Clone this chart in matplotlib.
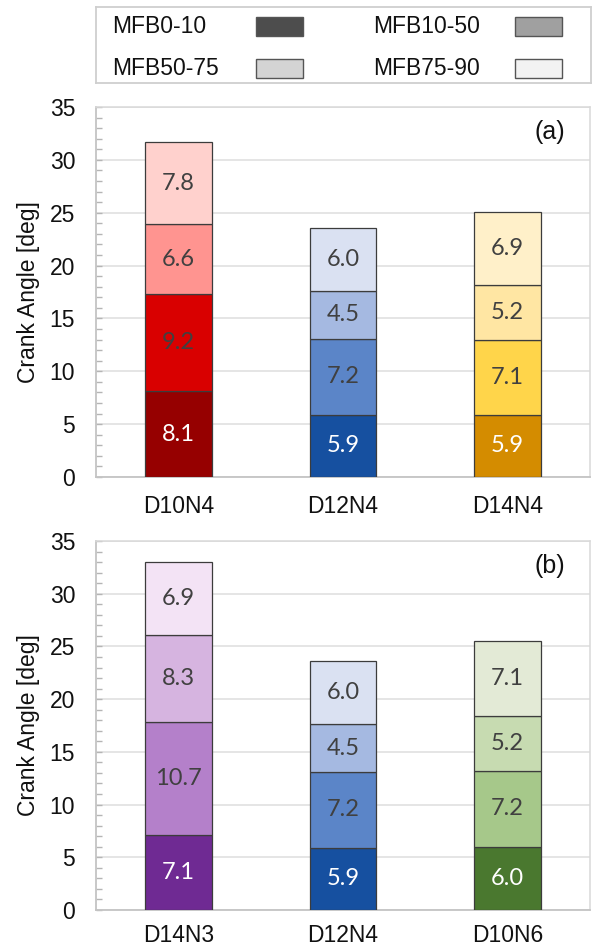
import matplotlib
matplotlib.use("Agg")
import matplotlib.pyplot as plt
from matplotlib.patches import Rectangle
import numpy as np

# Combustion phase durations (crank angle degrees) per mass-fraction-burned interval
phases = ["MFB0-10", "MFB10-50", "MFB50-75", "MFB75-90"]
legend_greys = ["#4d4d4d", "#a0a0a0", "#d4d4d4", "#f2f2f2"]

cases_a = ["D10N4", "D12N4", "D14N4"]
d10n4 = [8.1, 9.2, 6.6, 7.8]
d12n4 = [5.9, 7.2, 4.5, 6.0]
d14n4 = [5.9, 7.1, 5.2, 6.9]

cases_b = ["D14N3", "D12N4", "D10N6"]
d14n3 = [7.1, 10.7, 8.3, 6.9]
d10n6 = [6.0, 7.2, 5.2, 7.1]

red_shades = ["#960000", "#d90000", "#ff9490", "#ffd1cd"]
blue_shades = ["#1650a0", "#5b85c8", "#a5b9e1", "#dae1f2"]
gold_shades = ["#d48c00", "#ffd54a", "#ffe6a3", "#fff0c9"]
purple_shades = ["#6f2a93", "#b480ca", "#d6b4e0", "#f3e3f5"]
green_shades = ["#4a782f", "#a6c88a", "#c7dbb1", "#e3ead6"]

W, H = 592, 949
fig = plt.figure(figsize=(W / 100, H / 100), dpi=100)

TICK_FONT = "Liberation Sans"
VALUE_FONT = "Lato"


def px_axes(x0, y0, x1, y1):
    return fig.add_axes([x0 / W, 1 - y1 / H, (x1 - x0) / W, (y1 - y0) / H])


def stacked_panel(ax, cases, values, shades, tag, xpad):
    x = np.arange(len(cases))
    for i, (vals, cols) in enumerate(zip(values, shades)):
        bottom = 0.0
        for j, (v, c) in enumerate(zip(vals, cols)):
            ax.bar(x[i], v, width=0.405, bottom=bottom, color=c,
                   edgecolor="#3c3c3c", linewidth=0.9, zorder=3)
            ax.text(x[i], bottom + v / 2, f"{v:.1f}", ha="center", va="center",
                    fontsize=17, family=VALUE_FONT,
                    color="white" if j == 0 else "#404040", zorder=4)
            bottom += v
    ax.set_xlim(-0.5, len(cases) - 0.5)
    ax.set_ylim(0, 35)
    ax.set_yticks(np.arange(0, 36, 5))
    ax.set_yticks(np.arange(0, 36, 1), minor=True)
    ax.set_xticks(x)
    ax.set_xticklabels(cases, family=TICK_FONT, fontsize=16.5)
    for lbl in ax.get_yticklabels():
        lbl.set_family(TICK_FONT)
        lbl.set_fontsize(16.5)
    ax.tick_params(axis="y", which="both", direction="in", length=4,
                   width=1.0, color="#b5b5b5", pad=15, labelcolor="#111111")
    ax.tick_params(axis="x", length=0, pad=xpad, labelcolor="#111111")
    ax.grid(axis="y", which="major", color="#dedede", linewidth=1.1, zorder=0)
    for side in ["top", "right"]:
        ax.spines[side].set_color("#d9d9d9")
        ax.spines[side].set_linewidth(1.1)
    for side in ["left", "bottom"]:
        ax.spines[side].set_color("#c4c4c4")
        ax.spines[side].set_linewidth(1.3)
    ax.set_ylabel("Crank Angle [deg]", family=TICK_FONT, fontsize=16.5,
                  color="#111111")
    ax.yaxis.set_label_coords(-0.113, 0.5)
    ax.text(0.919, 32.6, tag, transform=ax.get_yaxis_transform(),
            ha="center", va="center", family=TICK_FONT, fontsize=18,
            color="#111111")


ax_a = px_axes(96, 107, 590, 477)
stacked_panel(ax_a, cases_a, [d10n4, d12n4, d14n4],
              [red_shades, blue_shades, gold_shades], "(a)", 13)

ax_b = px_axes(96, 541, 590, 910)
stacked_panel(ax_b, cases_b, [d14n3, d12n4, d10n6],
              [purple_shades, blue_shades, green_shades], "(b)", 10)

# Shared legend drawn in a framed strip above the panels
leg = px_axes(96, 7, 591, 83)
leg.set_xlim(96, 591)
leg.set_ylim(83, 7)
leg.set_xticks([])
leg.set_yticks([])
for s in leg.spines.values():
    s.set_color("#cfcfcf")
    s.set_linewidth(1.3)
text_x = [112, 373, 112, 373]
patch_x = [256, 515, 256, 515]
row_y = [26.5, 26.5, 68.5, 68.5]
for name, grey, tx, pxl, ry in zip(phases, legend_greys, text_x, patch_x, row_y):
    leg.text(tx, ry, name, ha="left", va="center", family=TICK_FONT,
             fontsize=16.5, color="#111111")
    leg.add_patch(Rectangle((pxl, ry - 9.5), 47, 19, facecolor=grey,
                            edgecolor="#555555", linewidth=1.0))

fig.savefig("out.png", dpi=100)
